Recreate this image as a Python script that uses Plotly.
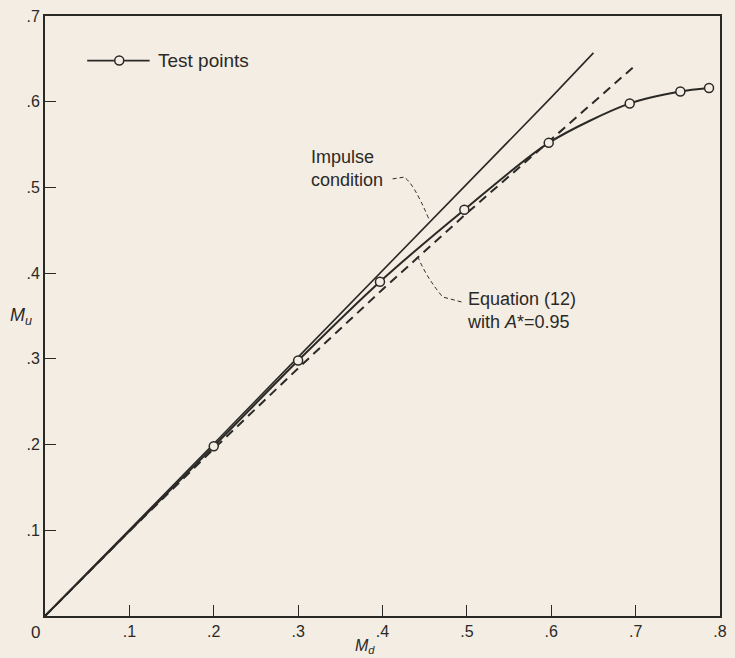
import plotly.graph_objects as go

# Measured test points (downstream vs upstream Mach number)
test_md = [0.0, 0.2, 0.3, 0.397, 0.497, 0.597, 0.693, 0.753, 0.787]
test_mu = [0.0, 0.198, 0.298, 0.39, 0.474, 0.552, 0.598, 0.612, 0.616]

# Impulse condition curve
impulse_md = [0.0, 0.1, 0.2, 0.3, 0.4, 0.5, 0.6, 0.65]
impulse_mu = [0.0, 0.1, 0.201, 0.302, 0.403, 0.504, 0.605, 0.657]

# Equation (12) with A* = 0.95
eq_md = [0.0, 0.1, 0.2, 0.3, 0.4, 0.5, 0.6, 0.698]
eq_mu = [0.0, 0.099, 0.195, 0.289, 0.381, 0.47, 0.556, 0.641]

x_ticks = [0.1, 0.2, 0.3, 0.4, 0.5, 0.6, 0.7, 0.8]
x_labels = [".1", ".2", ".3", ".4", ".5", ".6", ".7", ".8"]
y_ticks = [0.1, 0.2, 0.3, 0.4, 0.5, 0.6, 0.7]
y_labels = [".1", ".2", ".3", ".4", ".5", ".6", ".7"]

INK = "#2b2926"
PAPER = "#f3ede4"
FONT = "Liberation Sans"

fig = go.Figure()

fig.add_trace(go.Scatter(
    x=impulse_md, y=impulse_mu, mode="lines",
    line=dict(color=INK, width=1.6), showlegend=False, hoverinfo="skip"))

fig.add_trace(go.Scatter(
    x=eq_md, y=eq_mu, mode="lines",
    line=dict(color=INK, width=2, dash="9px,6px"), showlegend=False, hoverinfo="skip"))

fig.add_trace(go.Scatter(
    x=test_md, y=test_mu, mode="lines",
    line=dict(color=INK, width=2, shape="spline", smoothing=0.8),
    showlegend=False, hoverinfo="skip"))

fig.add_trace(go.Scatter(
    x=test_md[1:], y=test_mu[1:], mode="markers",
    marker=dict(symbol="circle", size=9, color=PAPER, line=dict(color=INK, width=1.5)),
    showlegend=False, cliponaxis=False))

shapes = []
# legend sample: line with an open circle
shapes.append(dict(type="line", xref="x", yref="y", x0=0.05, x1=0.124, y0=0.648, y1=0.648,
                   line=dict(color=INK, width=1.8)))
shapes.append(dict(type="circle", xref="x", yref="y", xsizemode="pixel", ysizemode="pixel",
                   xanchor=0.088, yanchor=0.648, x0=-4.5, x1=4.5, y0=-4.5, y1=4.5,
                   fillcolor=PAPER, line=dict(color=INK, width=1.5)))

# leader lines for the curve labels
shapes.append(dict(type="path", xref="x", yref="y",
                   path="M 0.412 0.510 L 0.4256 0.512 Q 0.437 0.505 0.4549 0.4632",
                   line=dict(color=INK, width=1, dash="4px,3px")))
shapes.append(dict(type="path", xref="x", yref="y",
                   path="M 0.4936 0.3664 L 0.4713 0.3722 Q 0.452 0.395 0.442 0.4189",
                   line=dict(color=INK, width=1, dash="4px,3px")))

annotations = [
    dict(x=0.131, y=0.648, xref="x", yref="y", text="Test points", showarrow=False,
         xanchor="left", yanchor="middle", font=dict(size=19, color=INK, family=FONT)),
    dict(x=0.313, y=0.522, xref="x", yref="y", text="Impulse<br>condition", showarrow=False,
         xanchor="left", yanchor="middle", align="left",
         font=dict(size=18, color=INK, family=FONT)),
    dict(x=0.498, y=0.356, xref="x", yref="y", text="Equation (12)<br>with <i>A</i>*=0.95",
         showarrow=False, xanchor="left", yanchor="middle", align="left",
         font=dict(size=18, color=INK, family=FONT)),
    dict(x=-0.0146, y=-0.027, xref="paper", yref="paper", text="0", showarrow=False,
         xanchor="center", yanchor="middle", font=dict(size=17, color=INK, family=FONT)),
    dict(x=0.491, y=-0.068, xref="paper", yref="paper", text="<i>M</i><sub><i>d</i></sub>",
         showarrow=False, xanchor="right", yanchor="bottom", borderpad=0,
         font=dict(size=16, color=INK, family=FONT)),
    dict(x=-0.036, y=0.5, xref="paper", yref="paper", text="<i>M</i><sub><i>u</i></sub>",
         showarrow=False, xanchor="center", yanchor="middle",
         font=dict(size=18, color=INK, family=FONT)),
]

axis_common = dict(showgrid=False, zeroline=False, showline=True, linecolor=INK, linewidth=2,
                   mirror=True, ticks="inside", ticklen=11, tickwidth=1.3, tickcolor=INK,
                   tickfont=dict(size=16, color=INK, family=FONT))

fig.update_layout(
    width=735, height=658,
    margin=dict(l=45, r=8, t=15, b=42),
    paper_bgcolor=PAPER, plot_bgcolor=PAPER,
    showlegend=False,
    shapes=shapes, annotations=annotations,
    xaxis=dict(range=[0, 0.8], tickvals=x_ticks, ticktext=x_labels, **axis_common),
    yaxis=dict(range=[0, 0.7], tickvals=y_ticks, ticktext=y_labels, **axis_common),
)

fig.write_html("out.html")
